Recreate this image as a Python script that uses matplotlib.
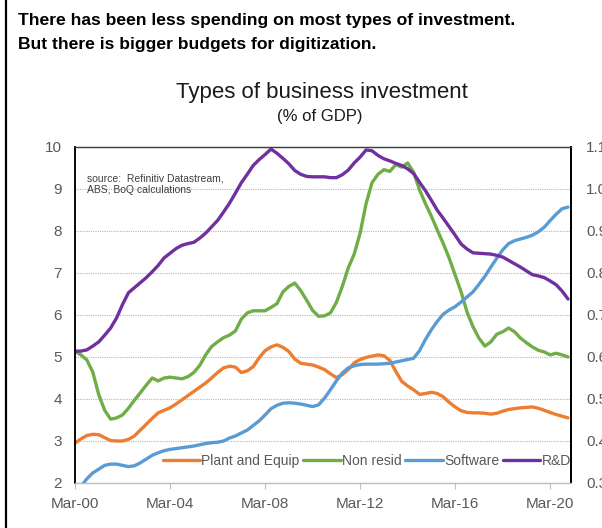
import numpy as np
import matplotlib
matplotlib.use("Agg")
import matplotlib.pyplot as plt
from matplotlib.lines import Line2D

# Quarterly series, Mar-00 .. Dec-20
plant_equip = [
    2.95, 3.05, 3.13, 3.16, 3.15, 3.08, 3.01, 3.00,
    3.00, 3.04, 3.12, 3.26, 3.40, 3.54, 3.67, 3.73,
    3.79, 3.88, 3.98, 4.08, 4.18, 4.28, 4.38, 4.50,
    4.63, 4.74, 4.78, 4.76, 4.63, 4.67, 4.77, 4.98,
    5.15, 5.24, 5.29, 5.23, 5.13, 4.95, 4.85, 4.83,
    4.81, 4.76, 4.70, 4.60, 4.51, 4.58, 4.70, 4.86,
    4.94, 4.99, 5.02, 5.05, 5.03, 4.92, 4.66, 4.42,
    4.31, 4.22, 4.11, 4.13, 4.16, 4.13, 4.05, 3.92,
    3.81, 3.72, 3.68, 3.67, 3.67, 3.66, 3.64, 3.66,
    3.71, 3.75, 3.77, 3.79, 3.80, 3.81, 3.78, 3.73,
    3.68, 3.63, 3.59, 3.55,
]
non_resid = [
    5.14, 5.05, 4.93, 4.64, 4.10, 3.73, 3.52, 3.55,
    3.62, 3.78, 3.97, 4.15, 4.33, 4.50, 4.43, 4.50,
    4.52, 4.50, 4.48, 4.53, 4.63, 4.80, 5.05, 5.25,
    5.36, 5.46, 5.52, 5.62, 5.90, 6.05, 6.10, 6.10,
    6.10, 6.18, 6.27, 6.55, 6.68, 6.76, 6.58, 6.35,
    6.11, 5.97, 5.98, 6.05, 6.30, 6.68, 7.12, 7.45,
    7.95, 8.65, 9.15, 9.35, 9.46, 9.42, 9.58, 9.52,
    9.62, 9.40, 8.98, 8.65, 8.35, 8.02, 7.70, 7.35,
    6.95, 6.55, 6.07, 5.72, 5.45, 5.26, 5.36, 5.54,
    5.60, 5.69, 5.60, 5.45, 5.34, 5.24, 5.16, 5.12,
    5.05, 5.09, 5.05, 5.00,
]
# right-hand scale
software = [
    0.275, 0.292, 0.310, 0.324, 0.333, 0.342, 0.345, 0.345,
    0.342, 0.339, 0.341, 0.348, 0.357, 0.366, 0.372, 0.377,
    0.380, 0.382, 0.384, 0.386, 0.388, 0.391, 0.394, 0.396,
    0.397, 0.400, 0.407, 0.412, 0.419, 0.426, 0.437, 0.448,
    0.462, 0.477, 0.485, 0.490, 0.491, 0.490, 0.488, 0.485,
    0.482, 0.486, 0.502, 0.522, 0.543, 0.562, 0.574, 0.579,
    0.582, 0.583, 0.583, 0.583, 0.584, 0.585, 0.588, 0.591,
    0.594, 0.597, 0.615, 0.642, 0.665, 0.685, 0.702, 0.712,
    0.720, 0.731, 0.743, 0.755, 0.773, 0.792, 0.814, 0.835,
    0.855, 0.870, 0.877, 0.881, 0.885, 0.890, 0.898, 0.909,
    0.925, 0.940, 0.953, 0.957,
]
r_and_d = [
    0.614, 0.614, 0.617, 0.626, 0.636, 0.652, 0.669, 0.693,
    0.725, 0.753, 0.765, 0.777, 0.789, 0.803, 0.818, 0.836,
    0.847, 0.858, 0.866, 0.870, 0.873, 0.883, 0.895, 0.910,
    0.925, 0.945, 0.966, 0.990, 1.015, 1.035, 1.056, 1.070,
    1.082, 1.095, 1.085, 1.073, 1.060, 1.044, 1.035, 1.030,
    1.029, 1.029, 1.029, 1.027, 1.027, 1.034, 1.045, 1.062,
    1.076, 1.093, 1.091, 1.080, 1.072, 1.067, 1.061, 1.056,
    1.048, 1.037, 1.016, 0.996, 0.973, 0.949, 0.930, 0.910,
    0.890, 0.869, 0.857, 0.848, 0.847, 0.846, 0.845, 0.842,
    0.838, 0.830, 0.822, 0.814, 0.805, 0.796, 0.793, 0.789,
    0.781, 0.772, 0.757, 0.738,
]

tick_positions = [0, 16, 32, 48, 64, 80]
tick_labels = ["Mar-00", "Mar-04", "Mar-08", "Mar-12", "Mar-16", "Mar-20"]
left_ticks = [2, 3, 4, 5, 6, 7, 8, 9, 10]
right_ticks = [0.3, 0.4, 0.5, 0.6, 0.7, 0.8, 0.9, 1.0, 1.1]

ORANGE = "#ED7D31"
GREEN = "#70AD47"
BLUE = "#5B9BD5"
PURPLE = "#7030A0"
TICK_GREY = "#595959"

NARROW = ["Liberation Sans Narrow", "Liberation Sans", "DejaVu Sans"]
plt.rcParams["font.family"] = ["Liberation Sans", "DejaVu Sans"]

W, H = 602, 528
fig = plt.figure(figsize=(W / 100, H / 100), dpi=100)
fig.patch.set_facecolor("white")

# vertical rule at the left edge of the panel
fig.add_artist(Line2D([6 / W, 6 / W], [0, 1], color="black", lw=1.6))

fig.text(18 / W, 1 - 20 / H,
         "There has been less spending on most types of investment.",
         fontsize=12.6, fontweight="bold", va="center", ha="left")
fig.text(18 / W, 1 - 45 / H,
         "But there is bigger budgets for digitization.",
         fontsize=12.6, fontweight="bold", va="center", ha="left")
fig.text(322 / W, 1 - 92 / H, "Types of business investment",
         fontsize=16, family=NARROW, va="center", ha="center", color="#1a1a1a")
fig.text(320 / W, 1 - 116 / H, "(% of GDP)",
         fontsize=12, family=NARROW, va="center", ha="center", color="#1a1a1a")

left, right, top, bottom = 75, 571, 147, 483
ax = fig.add_axes([left / W, 1 - bottom / H, (right - left) / W, (bottom - top) / H])
ax2 = ax.twinx()

x = np.arange(len(plant_equip))
l1, = ax.plot(x, plant_equip, color=ORANGE, lw=2.4, solid_capstyle="round",
              solid_joinstyle="round", label="Plant and Equip")
l2, = ax.plot(x, non_resid, color=GREEN, lw=2.4, solid_capstyle="round",
              solid_joinstyle="round", label="Non resid")
l3, = ax2.plot(x, software, color=BLUE, lw=2.4, solid_capstyle="round",
               solid_joinstyle="round", label="Software")
l4, = ax2.plot(x, r_and_d, color=PURPLE, lw=2.4, solid_capstyle="round",
               solid_joinstyle="round", label="R&D")

ax.set_xlim(0, len(plant_equip) - 0.5)
ax.set_ylim(2, 10)
ax2.set_ylim(0.3, 1.1)

ax.set_yticks(left_ticks)
ax.set_yticklabels([str(t) for t in left_ticks])
ax2.set_yticks(right_ticks)
ax2.set_yticklabels([f"{t:.1f}" for t in right_ticks])
ax.set_xticks(tick_positions)
ax.set_xticklabels(tick_labels)

for g in left_ticks[1:-1]:
    ax.axhline(g, color="#AFB6C6", lw=0.8, ls=(0, (1, 1)), zorder=0)

ax.tick_params(axis="y", length=0, pad=9.5, labelsize=11, labelcolor=TICK_GREY)
ax2.tick_params(axis="y", length=0, pad=11, labelsize=11, labelcolor=TICK_GREY)
ax.tick_params(axis="x", length=4, width=0.8, color="#BFBFBF", pad=6,
               labelsize=11, labelcolor=TICK_GREY)

for a in (ax, ax2):
    a.spines["left"].set_color("black")
    a.spines["left"].set_linewidth(1.1)
    a.spines["right"].set_color("black")
    a.spines["right"].set_linewidth(1.4)
    a.spines["top"].set_color("#404040")
    a.spines["top"].set_linewidth(0.9)
    a.spines["bottom"].set_color("#BFBFBF")
    a.spines["bottom"].set_linewidth(0.9)
ax2.patch.set_visible(False)

ax.text(12 / (right - left), 1 - 37 / (bottom - top),
        "source:  Refinitiv Datastream,\nABS, BoQ calculations",
        transform=ax.transAxes, fontsize=7.5, family=NARROW, color="#404040",
        va="center", ha="left", linespacing=1.2)

leg = ax2.legend(handles=[l1, l2, l3, l4], loc="center",
                 bbox_to_anchor=(0.588, 0.065), ncol=4, frameon=False,
                 fontsize=10, handlelength=2.7, handletextpad=0.1,
                 columnspacing=0.25, borderpad=0, borderaxespad=0)
for t in leg.get_texts():
    t.set_color(TICK_GREY)

fig.savefig("out.png", dpi=100)
